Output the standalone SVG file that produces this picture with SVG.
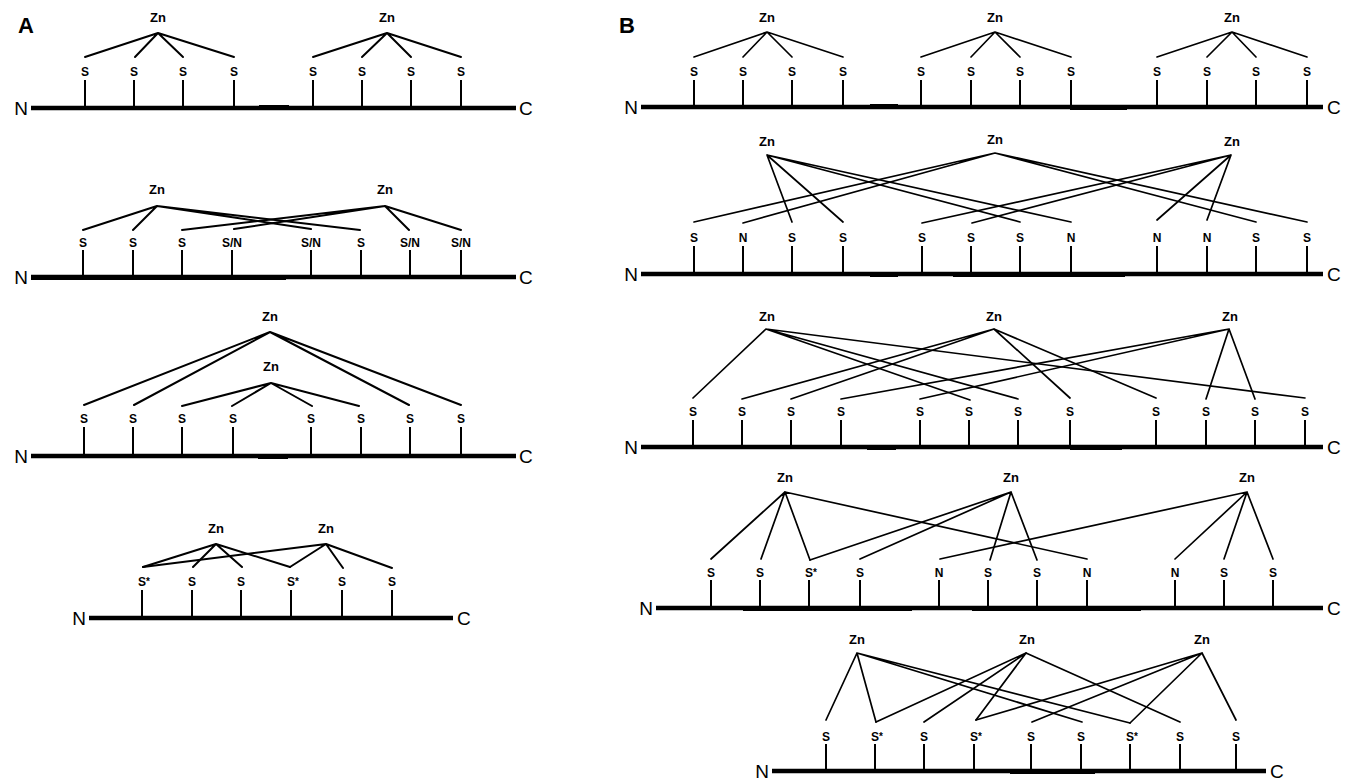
<svg xmlns="http://www.w3.org/2000/svg" width="1348" height="781" viewBox="0 0 1348 781">
  <style>
    text { font-family: "Liberation Sans", Arial, sans-serif; fill: #000; }
    .panel { font-size: 22px; font-weight: bold; }
    .zn { font-size: 13px; font-weight: bold; text-anchor: middle; }
    .res { font-size: 12px; font-weight: bold; text-anchor: middle; }
    .ress { font-size: 12px; font-weight: bold; }
    .ast { font-size: 10px; }
    .term { font-size: 19px; }
    .termN { font-size: 19px; text-anchor: end; }
    .chain { stroke: #000; stroke-width: 4.5; fill: none; }
    .joint { stroke: #000; stroke-width: 4; fill: none; }
    .stem { stroke: #000; stroke-width: 2; fill: none; }
    .bond { stroke: #000; stroke-width: 2; fill: none; stroke-linecap: round; }
    .bondB { stroke: #000; stroke-width: 1.7; fill: none; stroke-linecap: round; }
  </style>
  <rect width="1348" height="781" fill="#fff"/>

  <text class="panel" x="18" y="33">A</text>
  <text class="panel" x="619" y="33">B</text>

  <!-- ===================== Panel A ===================== -->
  <!-- A1: two separate Zn(Cys)4 sites -->
  <g id="a1-chain">
    <line class="chain" x1="31" y1="108" x2="516" y2="108"/>
    <line class="joint" x1="259" y1="107" x2="289" y2="107"/>
    <text class="termN" x="28" y="115">N</text>
    <text class="term" x="519" y="115">C</text>
  </g>
  <g id="a1-zn1"><text class="zn" x="158" y="22">Zn</text></g>
  <g id="a1-zn2"><text class="zn" x="387" y="22">Zn</text></g>
  <g id="a1-r1"><line class="stem" x1="85" y1="80" x2="85" y2="108"/><text class="res" x="85" y="76">S</text></g>
  <g id="a1-r2"><line class="stem" x1="134" y1="80" x2="134" y2="108"/><text class="res" x="134" y="76">S</text></g>
  <g id="a1-r3"><line class="stem" x1="183" y1="80" x2="183" y2="108"/><text class="res" x="183" y="76">S</text></g>
  <g id="a1-r4"><line class="stem" x1="234" y1="80" x2="234" y2="108"/><text class="res" x="234" y="76">S</text></g>
  <g id="a1-r5"><line class="stem" x1="313" y1="80" x2="313" y2="108"/><text class="res" x="313" y="76">S</text></g>
  <g id="a1-r6"><line class="stem" x1="362" y1="80" x2="362" y2="108"/><text class="res" x="362" y="76">S</text></g>
  <g id="a1-r7"><line class="stem" x1="411" y1="80" x2="411" y2="108"/><text class="res" x="411" y="76">S</text></g>
  <g id="a1-r8"><line class="stem" x1="461" y1="80" x2="461" y2="108"/><text class="res" x="461" y="76">S</text></g>

  <!-- A2: two interleaved sites -->
  <g id="a2-chain">
    <line class="chain" x1="31" y1="277" x2="516" y2="277"/>
    <line class="joint" x1="31" y1="278" x2="286" y2="278"/>
    <text class="termN" x="28" y="284">N</text>
    <text class="term" x="519" y="284">C</text>
  </g>
  <g id="a2-zn1"><text class="zn" x="157" y="194">Zn</text></g>
  <g id="a2-zn2"><text class="zn" x="385" y="194">Zn</text></g>
  <g id="a2-r1"><line class="stem" x1="83" y1="250" x2="83" y2="277"/><text class="res" x="83" y="247">S</text></g>
  <g id="a2-r2"><line class="stem" x1="133" y1="250" x2="133" y2="277"/><text class="res" x="133" y="247">S</text></g>
  <g id="a2-r3"><line class="stem" x1="182" y1="250" x2="182" y2="277"/><text class="res" x="182" y="247">S</text></g>
  <g id="a2-r4"><line class="stem" x1="232" y1="250" x2="232" y2="277"/><text class="res" x="232" y="247">S/N</text></g>
  <g id="a2-r5"><line class="stem" x1="311" y1="250" x2="311" y2="277"/><text class="res" x="311" y="247">S/N</text></g>
  <g id="a2-r6"><line class="stem" x1="361" y1="250" x2="361" y2="277"/><text class="res" x="361" y="247">S</text></g>
  <g id="a2-r7"><line class="stem" x1="410" y1="250" x2="410" y2="277"/><text class="res" x="410" y="247">S/N</text></g>
  <g id="a2-r8"><line class="stem" x1="461" y1="250" x2="461" y2="277"/><text class="res" x="461" y="247">S/N</text></g>

  <!-- A3: nested sites -->
  <g id="a3-chain">
    <line class="chain" x1="31" y1="456" x2="516" y2="456"/>
    <line class="joint" x1="258" y1="457" x2="288" y2="457"/>
    <text class="termN" x="28" y="463">N</text>
    <text class="term" x="519" y="463">C</text>
  </g>
  <g id="a3-zn1"><text class="zn" x="270" y="321">Zn</text></g>
  <g id="a3-zn2"><text class="zn" x="271" y="371">Zn</text></g>
  <g id="a3-r1"><line class="stem" x1="84" y1="427" x2="84" y2="456"/><text class="res" x="84" y="423">S</text></g>
  <g id="a3-r2"><line class="stem" x1="133" y1="427" x2="133" y2="456"/><text class="res" x="133" y="423">S</text></g>
  <g id="a3-r3"><line class="stem" x1="182" y1="427" x2="182" y2="456"/><text class="res" x="182" y="423">S</text></g>
  <g id="a3-r4"><line class="stem" x1="233" y1="427" x2="233" y2="456"/><text class="res" x="233" y="423">S</text></g>
  <g id="a3-r5"><line class="stem" x1="311" y1="427" x2="311" y2="456"/><text class="res" x="311" y="423">S</text></g>
  <g id="a3-r6"><line class="stem" x1="361" y1="427" x2="361" y2="456"/><text class="res" x="361" y="423">S</text></g>
  <g id="a3-r7"><line class="stem" x1="410" y1="427" x2="410" y2="456"/><text class="res" x="410" y="423">S</text></g>
  <g id="a3-r8"><line class="stem" x1="461" y1="427" x2="461" y2="456"/><text class="res" x="461" y="423">S</text></g>

  <!-- A4: Zn2Cys6 cluster with bridging cysteines -->
  <g id="a4-chain">
    <line class="chain" x1="89" y1="618" x2="453" y2="618"/>
    <text class="termN" x="86" y="625">N</text>
    <text class="term" x="457" y="625">C</text>
  </g>
  <g id="a4-zn1"><text class="zn" x="216" y="533">Zn</text></g>
  <g id="a4-zn2"><text class="zn" x="326" y="533">Zn</text></g>
  <g id="a4-r1"><line class="stem" x1="142" y1="590" x2="142" y2="618"/><text class="ress" x="138" y="586">S<tspan class="ast" dy="-1">*</tspan></text></g>
  <g id="a4-r2"><line class="stem" x1="192" y1="590" x2="192" y2="618"/><text class="res" x="192" y="586">S</text></g>
  <g id="a4-r3"><line class="stem" x1="241" y1="590" x2="241" y2="618"/><text class="res" x="241" y="586">S</text></g>
  <g id="a4-r4"><line class="stem" x1="291" y1="590" x2="291" y2="618"/><text class="ress" x="287" y="586">S<tspan class="ast" dy="-1">*</tspan></text></g>
  <g id="a4-r5"><line class="stem" x1="342" y1="590" x2="342" y2="618"/><text class="res" x="342" y="586">S</text></g>
  <g id="a4-r6"><line class="stem" x1="392" y1="590" x2="392" y2="618"/><text class="res" x="392" y="586">S</text></g>

  <!-- ===================== Panel B ===================== -->
  <!-- B1 -->
  <g id="b1-chain">
    <line class="chain" x1="641" y1="107" x2="1323" y2="107"/>
    <line class="joint" x1="870" y1="106" x2="898" y2="106"/>
    <line class="joint" x1="1070" y1="108" x2="1127" y2="108"/>
    <text class="termN" x="638" y="114">N</text>
    <text class="term" x="1327" y="114">C</text>
  </g>
  <g id="b1-zn1"><text class="zn" x="767" y="22">Zn</text></g>
  <g id="b1-zn2"><text class="zn" x="995" y="22">Zn</text></g>
  <g id="b1-zn3"><text class="zn" x="1232" y="22">Zn</text></g>
  <g id="b1-r1"><line class="stem" x1="694" y1="80" x2="694" y2="107"/><text class="res" x="694" y="76">S</text></g>
  <g id="b1-r2"><line class="stem" x1="743" y1="80" x2="743" y2="107"/><text class="res" x="743" y="76">S</text></g>
  <g id="b1-r3"><line class="stem" x1="792" y1="80" x2="792" y2="107"/><text class="res" x="792" y="76">S</text></g>
  <g id="b1-r4"><line class="stem" x1="843" y1="80" x2="843" y2="107"/><text class="res" x="843" y="76">S</text></g>
  <g id="b1-r5"><line class="stem" x1="921" y1="80" x2="921" y2="107"/><text class="res" x="921" y="76">S</text></g>
  <g id="b1-r6"><line class="stem" x1="971" y1="80" x2="971" y2="107"/><text class="res" x="971" y="76">S</text></g>
  <g id="b1-r7"><line class="stem" x1="1020" y1="80" x2="1020" y2="107"/><text class="res" x="1020" y="76">S</text></g>
  <g id="b1-r8"><line class="stem" x1="1071" y1="80" x2="1071" y2="107"/><text class="res" x="1071" y="76">S</text></g>
  <g id="b1-r9"><line class="stem" x1="1157" y1="80" x2="1157" y2="107"/><text class="res" x="1157" y="76">S</text></g>
  <g id="b1-r10"><line class="stem" x1="1207" y1="80" x2="1207" y2="107"/><text class="res" x="1207" y="76">S</text></g>
  <g id="b1-r11"><line class="stem" x1="1256" y1="80" x2="1256" y2="107"/><text class="res" x="1256" y="76">S</text></g>
  <g id="b1-r12"><line class="stem" x1="1307" y1="80" x2="1307" y2="107"/><text class="res" x="1307" y="76">S</text></g>

  <!-- B2 -->
  <g id="b2-chain">
    <line class="chain" x1="641" y1="274" x2="1323" y2="274"/>
    <line class="joint" x1="870" y1="275" x2="898" y2="275"/>
    <line class="joint" x1="953" y1="275" x2="1125" y2="275"/>
    <text class="termN" x="638" y="281">N</text>
    <text class="term" x="1327" y="281">C</text>
  </g>
  <g id="b2-zn1"><text class="zn" x="767" y="146">Zn</text></g>
  <g id="b2-zn2"><text class="zn" x="995" y="144">Zn</text></g>
  <g id="b2-zn3"><text class="zn" x="1232" y="146">Zn</text></g>
  <g id="b2-r1"><line class="stem" x1="694" y1="246" x2="694" y2="274"/><text class="res" x="694" y="242">S</text></g>
  <g id="b2-r2"><line class="stem" x1="743" y1="246" x2="743" y2="274"/><text class="res" x="743" y="242">N</text></g>
  <g id="b2-r3"><line class="stem" x1="792" y1="246" x2="792" y2="274"/><text class="res" x="792" y="242">S</text></g>
  <g id="b2-r4"><line class="stem" x1="843" y1="246" x2="843" y2="274"/><text class="res" x="843" y="242">S</text></g>
  <g id="b2-r5"><line class="stem" x1="922" y1="246" x2="922" y2="274"/><text class="res" x="922" y="242">S</text></g>
  <g id="b2-r6"><line class="stem" x1="971" y1="246" x2="971" y2="274"/><text class="res" x="971" y="242">S</text></g>
  <g id="b2-r7"><line class="stem" x1="1020" y1="246" x2="1020" y2="274"/><text class="res" x="1020" y="242">S</text></g>
  <g id="b2-r8"><line class="stem" x1="1071" y1="246" x2="1071" y2="274"/><text class="res" x="1071" y="242">N</text></g>
  <g id="b2-r9"><line class="stem" x1="1157" y1="246" x2="1157" y2="274"/><text class="res" x="1157" y="242">N</text></g>
  <g id="b2-r10"><line class="stem" x1="1207" y1="246" x2="1207" y2="274"/><text class="res" x="1207" y="242">N</text></g>
  <g id="b2-r11"><line class="stem" x1="1256" y1="246" x2="1256" y2="274"/><text class="res" x="1256" y="242">S</text></g>
  <g id="b2-r12"><line class="stem" x1="1307" y1="246" x2="1307" y2="274"/><text class="res" x="1307" y="242">S</text></g>

  <!-- B3 -->
  <g id="b3-chain">
    <line class="chain" x1="641" y1="447" x2="1323" y2="447"/>
    <line class="joint" x1="867" y1="448" x2="896" y2="448"/>
    <line class="joint" x1="1070" y1="448" x2="1122" y2="448"/>
    <text class="termN" x="638" y="454">N</text>
    <text class="term" x="1327" y="454">C</text>
  </g>
  <g id="b3-zn1"><text class="zn" x="767" y="321">Zn</text></g>
  <g id="b3-zn2"><text class="zn" x="994" y="321">Zn</text></g>
  <g id="b3-zn3"><text class="zn" x="1230" y="321">Zn</text></g>
  <g id="b3-r1"><line class="stem" x1="693" y1="420" x2="693" y2="447"/><text class="res" x="693" y="416">S</text></g>
  <g id="b3-r2"><line class="stem" x1="742" y1="420" x2="742" y2="447"/><text class="res" x="742" y="416">S</text></g>
  <g id="b3-r3"><line class="stem" x1="791" y1="420" x2="791" y2="447"/><text class="res" x="791" y="416">S</text></g>
  <g id="b3-r4"><line class="stem" x1="841" y1="420" x2="841" y2="447"/><text class="res" x="841" y="416">S</text></g>
  <g id="b3-r5"><line class="stem" x1="920" y1="420" x2="920" y2="447"/><text class="res" x="920" y="416">S</text></g>
  <g id="b3-r6"><line class="stem" x1="969" y1="420" x2="969" y2="447"/><text class="res" x="969" y="416">S</text></g>
  <g id="b3-r7"><line class="stem" x1="1018" y1="420" x2="1018" y2="447"/><text class="res" x="1018" y="416">S</text></g>
  <g id="b3-r8"><line class="stem" x1="1070" y1="420" x2="1070" y2="447"/><text class="res" x="1070" y="416">S</text></g>
  <g id="b3-r9"><line class="stem" x1="1156" y1="420" x2="1156" y2="447"/><text class="res" x="1156" y="416">S</text></g>
  <g id="b3-r10"><line class="stem" x1="1206" y1="420" x2="1206" y2="447"/><text class="res" x="1206" y="416">S</text></g>
  <g id="b3-r11"><line class="stem" x1="1255" y1="420" x2="1255" y2="447"/><text class="res" x="1255" y="416">S</text></g>
  <g id="b3-r12"><line class="stem" x1="1305" y1="420" x2="1305" y2="447"/><text class="res" x="1305" y="416">S</text></g>

  <!-- B4 -->
  <g id="b4-chain">
    <line class="chain" x1="656" y1="608" x2="1323" y2="608"/>
    <line class="joint" x1="743" y1="609" x2="912" y2="609"/>
    <line class="joint" x1="972" y1="609" x2="1141" y2="609"/>
    <text class="termN" x="653" y="615">N</text>
    <text class="term" x="1327" y="615">C</text>
  </g>
  <g id="b4-zn1"><text class="zn" x="785" y="482">Zn</text></g>
  <g id="b4-zn2"><text class="zn" x="1011" y="482">Zn</text></g>
  <g id="b4-zn3"><text class="zn" x="1247" y="482">Zn</text></g>
  <g id="b4-r1"><line class="stem" x1="711" y1="580" x2="711" y2="608"/><text class="res" x="711" y="577">S</text></g>
  <g id="b4-r2"><line class="stem" x1="760" y1="580" x2="760" y2="608"/><text class="res" x="760" y="577">S</text></g>
  <g id="b4-r3"><line class="stem" x1="809" y1="580" x2="809" y2="608"/><text class="ress" x="805" y="577">S<tspan class="ast" dy="-1">*</tspan></text></g>
  <g id="b4-r4"><line class="stem" x1="860" y1="580" x2="860" y2="608"/><text class="res" x="860" y="577">S</text></g>
  <g id="b4-r5"><line class="stem" x1="939" y1="580" x2="939" y2="608"/><text class="res" x="939" y="577">N</text></g>
  <g id="b4-r6"><line class="stem" x1="988" y1="580" x2="988" y2="608"/><text class="res" x="988" y="577">S</text></g>
  <g id="b4-r7"><line class="stem" x1="1037" y1="580" x2="1037" y2="608"/><text class="res" x="1037" y="577">S</text></g>
  <g id="b4-r8"><line class="stem" x1="1087" y1="580" x2="1087" y2="608"/><text class="res" x="1087" y="577">N</text></g>
  <g id="b4-r9"><line class="stem" x1="1175" y1="580" x2="1175" y2="608"/><text class="res" x="1175" y="577">N</text></g>
  <g id="b4-r10"><line class="stem" x1="1224" y1="580" x2="1224" y2="608"/><text class="res" x="1224" y="577">S</text></g>
  <g id="b4-r11"><line class="stem" x1="1273" y1="580" x2="1273" y2="608"/><text class="res" x="1273" y="577">S</text></g>

  <!-- B5 -->
  <g id="b5-chain">
    <line class="chain" x1="772" y1="771" x2="1266" y2="771"/>
    <line class="joint" x1="1010" y1="772" x2="1095" y2="772"/>
    <text class="termN" x="769" y="778">N</text>
    <text class="term" x="1270" y="778">C</text>
  </g>
  <g id="b5-zn1"><text class="zn" x="857" y="644">Zn</text></g>
  <g id="b5-zn2"><text class="zn" x="1027" y="644">Zn</text></g>
  <g id="b5-zn3"><text class="zn" x="1202" y="644">Zn</text></g>
  <g id="b5-r1"><line class="stem" x1="826" y1="744" x2="826" y2="771"/><text class="res" x="826" y="741">S</text></g>
  <g id="b5-r2"><line class="stem" x1="875" y1="744" x2="875" y2="771"/><text class="ress" x="871" y="741">S<tspan class="ast" dy="-1">*</tspan></text></g>
  <g id="b5-r3"><line class="stem" x1="924" y1="744" x2="924" y2="771"/><text class="res" x="924" y="741">S</text></g>
  <g id="b5-r4"><line class="stem" x1="974" y1="744" x2="974" y2="771"/><text class="ress" x="970" y="741">S<tspan class="ast" dy="-1">*</tspan></text></g>
  <g id="b5-r5"><line class="stem" x1="1031" y1="744" x2="1031" y2="771"/><text class="res" x="1031" y="741">S</text></g>
  <g id="b5-r6"><line class="stem" x1="1081" y1="744" x2="1081" y2="771"/><text class="res" x="1081" y="741">S</text></g>
  <g id="b5-r7"><line class="stem" x1="1130" y1="744" x2="1130" y2="771"/><text class="ress" x="1126" y="741">S<tspan class="ast" dy="-1">*</tspan></text></g>
  <g id="b5-r8"><line class="stem" x1="1180" y1="744" x2="1180" y2="771"/><text class="res" x="1180" y="741">S</text></g>
  <g id="b5-r9"><line class="stem" x1="1236" y1="744" x2="1236" y2="771"/><text class="res" x="1236" y="741">S</text></g>

  <!-- Zn–ligand coordination bonds -->
  <g id="connectors">
    <g id="a1-bonds" class="bond">
      <path d="M158 33L85 57M158 33L135 57M158 33L183 57M158 33L234 57"/>
      <path d="M387 33L313 57M387 33L362 57M387 33L411 57M387 33L461 57"/>
    </g>
    <g id="a2-bonds" class="bond">
      <path d="M157 206L83 230M157 206L133 230M157 206L311 229M157 206L360 230"/>
      <path d="M385 206L182 230M385 206L234 229M385 206L409 230M385 206L461 230"/>
    </g>
    <g id="a3-bonds" class="bond">
      <path d="M270 332L84 405M270 332L134 405M270 332L409 405M270 332L461 405"/>
      <path d="M271 383L182 406M271 383L232 406M271 383L312 406M271 383L359 406"/>
    </g>
    <g id="a4-bonds" class="bond">
      <path d="M216 544L143 567M216 544L193 567M216 544L242 567M216 544L290 567"/>
      <path d="M326 544L143 567M326 544L290 567M326 544L343 568M326 544L392 568"/>
    </g>
    <g id="b1-bonds" class="bondB">
      <path d="M767 32L694 57M767 32L743 57M767 32L792 57M767 32L843 57"/>
      <path d="M995 32L921 57M995 32L971 57M995 32L1020 57M995 32L1071 57"/>
      <path d="M1232 32L1157 57M1232 32L1207 57M1232 32L1256 57M1232 32L1307 57"/>
    </g>
    <g id="b2-bonds" class="bondB">
      <path d="M767 155L792 222M767 155L843 222M767 155L1020 222M767 155L1071 222"/>
      <path d="M995 153L694 222M995 153L743 223M995 153L1256 222M995 153L1307 222"/>
      <path d="M1231 155L922 223M1231 155L972 223M1231 155L1157 220M1231 155L1207 220"/>
    </g>
    <g id="b3-bonds" class="bondB">
      <path d="M766 329L693 398M766 329L970 400M766 329L1018 399M766 329L1305 398"/>
      <path d="M994 329L742 399M994 329L791 399M994 329L1070 398M994 329L1156 398"/>
      <path d="M1229 329L841 399M1229 329L920 399M1229 329L1206 399M1229 329L1255 399"/>
    </g>
    <g id="b4-bonds" class="bondB">
      <path d="M785 492L711 559M785 492L761 559M785 492L810 560M785 492L1087 559"/>
      <path d="M1011 492L810 560M1011 492L860 559M1011 492L990 560M1011 492L1037 560"/>
      <path d="M1247 492L940 559M1247 492L1175 559M1247 492L1224 559M1247 492L1273 559"/>
    </g>
    <g id="b5-bonds" class="bondB">
      <path d="M857 653L826 720M857 653L876 722M857 653L1082 722M857 653L1130 723"/>
      <path d="M1026 653L876 722M1026 653L924 722M1026 653L976 720M1026 653L1180 722"/>
      <path d="M1202 653L976 720M1202 653L1032 722M1202 653L1130 723M1202 653L1236 720"/>
    </g>
  </g>
</svg>
